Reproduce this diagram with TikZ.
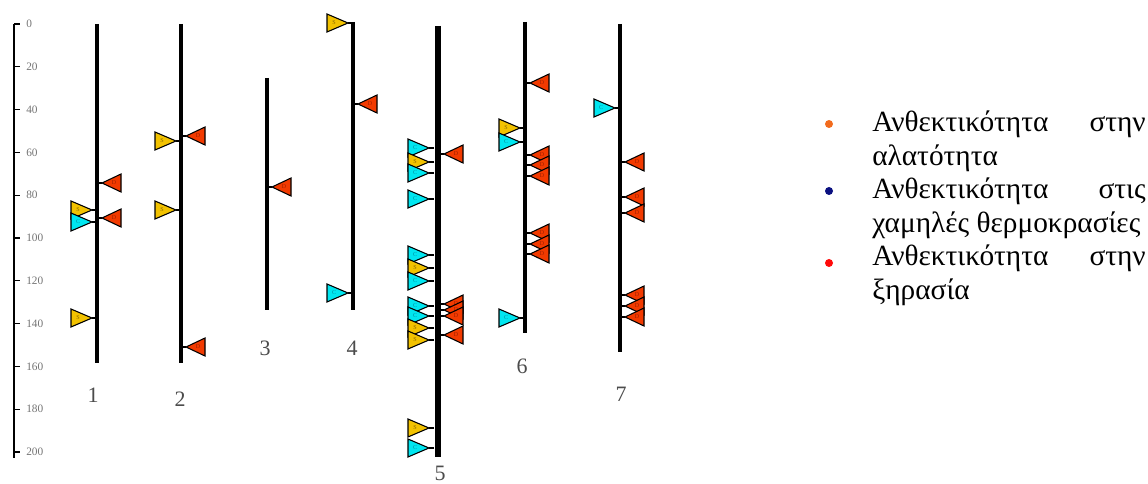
\documentclass[tikz,border=0pt]{standalone}
\usepackage{fontspec}
\setmainfont{Liberation Serif}
\definecolor{flagY}{HTML}{F2C200}
\definecolor{flagC}{HTML}{00E6F0}
\definecolor{flagR}{HTML}{F23A00}
\definecolor{txtY}{HTML}{8A6A00}
\definecolor{txtC}{HTML}{0090A0}
\definecolor{txtR}{HTML}{A02000}
\definecolor{legO}{HTML}{F26B1D}
\definecolor{legB}{HTML}{0A1080}
\definecolor{legR}{HTML}{FF0A0A}
\begin{document}
\begin{tikzpicture}[x=0.75pt,y=-0.75pt,
  chrom/.style={line width=3pt},
  flagline/.style={draw=black,line width=0.8pt,line join=miter},
  flagtxt/.style={font=\fontsize{4.5}{5}\selectfont,inner sep=0pt},
  axislbl/.style={font=\fontsize{8.5}{9}\selectfont,text=black!55,anchor=west,inner sep=0pt},
  chlbl/.style={font=\fontsize{16.5}{18}\selectfont,text=black!70,inner sep=0pt},
  leg/.style={font=\fontsize{22}{24}\selectfont,inner sep=0pt},
  bullet/.style={circle,inner sep=0pt,minimum size=6pt}]
\useasboundingbox (0,0) rectangle (1148,484);
% axis
\coordinate (at) at (14,24);
\coordinate (ab) at (14,458);
\draw[line width=1.1pt] (at) -- (ab);
\foreach \v in {0,20,...,200}{
  \pgfmathsetmacro\yy{24+2.14*\v}
  \coordinate (tk\v) at (14,\yy);
  \coordinate (te\v) at (20,\yy);
  \draw[line width=0.9pt] (tk\v) -- (te\v);
  \node[axislbl] (tl\v) at (26,\yy) {\v};
}
% left flags (yellow = S, cyan = C)
\foreach \cx/\ty/\c/\l in {97/210/Y/S,97/222/C/C,97/318/Y/S,
  181/141/Y/S,181/210/Y/S,
  353/23/Y/S,353/293/C/C,
  434/148/C/C,434/162/Y/S,434/173/C/C,434/199/C/C,
  434/255/C/C,434/268/Y/S,434/281/C/C,
  434/306/C/C,434/316/C/C,434/328/Y/S,434/340/Y/S,
  434/428/Y/S,434/448/C/C,
  525/128/Y/S,525/142/C/C,525/318/C/C,
  620/108/C/C}{
  \coordinate (ls-\cx-\ty) at (\cx,\ty);
  \coordinate (lt-\cx-\ty) at (\cx-5,\ty);
  \draw[line width=0.8pt] (ls-\cx-\ty) -- (lt-\cx-\ty);
  \draw[flagline,fill=flag\c] (lt-\cx-\ty) -- ++(-21,-9) -- ++(0,18) -- cycle;
  \node[flagtxt,text=txt\c] (lf-\cx-\ty) at (\cx-19,\ty) {\l};
}
% right flags (red = D)
\foreach \cx/\ty in {97/183,97/218,181/136,181/347,267/187,353/104,
  439/154,439/304,439/310,439/316,439/335,
  525/83,525/155,525/165,525/176,525/233,525/244,525/254,
  620/162,620/197,620/213,620/295,620/306,620/317}{
  \coordinate (rs-\cx-\ty) at (\cx,\ty);
  \coordinate (rt-\cx-\ty) at (\cx+5,\ty);
  \draw[line width=0.8pt] (rs-\cx-\ty) -- (rt-\cx-\ty);
  \draw[flagline,fill=flagR] (rt-\cx-\ty) -- ++(19,-9) -- ++(0,18) -- cycle;
  \node[flagtxt,text=txtR] (rf-\cx-\ty) at (\cx+17,\ty) {D};
}
% chromosomes
\coordinate (c1t) at (97,24);  \coordinate (c1b) at (97,363);
\coordinate (c2t) at (181,24); \coordinate (c2b) at (181,363);
\coordinate (c3t) at (267,78); \coordinate (c3b) at (267,310);
\coordinate (c4t) at (353,22); \coordinate (c4b) at (353,310);
\coordinate (c5t) at (438,26); \coordinate (c5b) at (438,457);
\coordinate (c6t) at (525,22); \coordinate (c6b) at (525,333);
\coordinate (c7t) at (620,24); \coordinate (c7b) at (620,352);
\draw[chrom] (c1t) -- (c1b);
\draw[chrom] (c2t) -- (c2b);
\draw[chrom] (c3t) -- (c3b);
\draw[chrom] (c4t) -- (c4b);
\draw[chrom,line width=4.2pt] (c5t) -- (c5b);
\draw[chrom] (c6t) -- (c6b);
\draw[chrom] (c7t) -- (c7b);
\node[chlbl] (n1) at (93,395) {1};
\node[chlbl] (n2) at (180,399) {2};
\node[chlbl] (n3) at (265,348) {3};
\node[chlbl] (n4) at (352,348) {4};
\node[chlbl] (n5) at (440,473) {5};
\node[chlbl] (n6) at (522,366) {6};
\node[chlbl] (n7) at (621,394) {7};
% legend
\node[bullet,fill=legO] (b1) at (829,124) {};
\node[bullet,fill=legB] (b2) at (829,191) {};
\node[bullet,fill=legR] (b3) at (829,263) {};
\node[leg,anchor=base west] (l1a) at (872,132) {Ανθεκτικότητα};
\node[leg,anchor=base east] (l1b) at (1146,132) {στην};
\node[leg,anchor=base west] (l2) at (872,165.5) {αλατότητα};
\node[leg,anchor=base west] (l3a) at (872,199) {Ανθεκτικότητα};
\node[leg,anchor=base east] (l3b) at (1146,199) {στις};
\node[leg,anchor=base west] (l4) at (872,232.5) {χαμηλές θερμοκρασίες};
\node[leg,anchor=base west] (l5a) at (872,266) {Ανθεκτικότητα};
\node[leg,anchor=base east] (l5b) at (1146,266) {στην};
\node[leg,anchor=base west] (l6) at (872,299.5) {ξηρασία};
\end{tikzpicture}
\end{document}
